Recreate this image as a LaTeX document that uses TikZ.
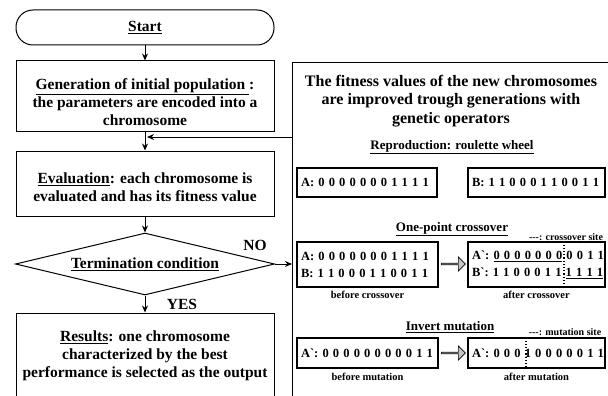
\documentclass[tikz,border=0pt]{standalone}
\usepackage{fontspec}
\setmainfont{Liberation Serif}
\newfontfamily\bitfont{Liberation Serif}[WordSpace=1.25]
\newcommand{\lift}[1]{\rule{0pt}{#1}}
\usetikzlibrary{arrows.meta,shapes.geometric,shapes.arrows,positioning}

\begin{document}
\begin{tikzpicture}[-,
    x=1pt, y=-1pt,
    >={Stealth[length=7pt,width=6pt]},
    line width=1pt,
    every node/.style={font=\bfseries\fontsize{15.5}{18}\selectfont}]
  \tikzstyle{block}=[draw, rectangle, minimum width=258pt, align=center, inner sep=0pt]
  \tikzstyle{chrom}=[draw, rectangle, line width=1.2pt, align=left, inner xsep=4pt, inner ysep=0pt,
    font=\bitfont\bfseries\fontsize{12.5}{17}\selectfont]
  \tikzstyle{head}=[font=\bfseries\fontsize{13}{15}\selectfont]
  \tikzstyle{caption}=[inner sep=0pt, font=\bfseries\fontsize{10.5}{12}\selectfont]
  \tikzstyle{site}=[inner sep=0pt, font=\bfseries\fontsize{10}{11}\selectfont]
  \tikzstyle{fatarrow}=[single arrow, draw, fill=gray!45, line width=0.7pt, minimum height=24pt,
    minimum width=14pt, single arrow head extend=3pt, inner sep=0pt]

  \useasboundingbox (0,0) rectangle (608,396);
  \clip (0,0) rectangle (608,396);

  % flow chart
  \node (start)   [block, rounded corners=17pt, minimum height=35pt] at (145,27.5) {\underline{Start}};
  \node (gen)     [block, minimum height=70pt] at (145,96)
    {\lift{24pt}\underline{Generation of initial population }:\\the parameters are encoded into a\\chromosome};
  \node (eval)    [block, minimum height=65pt] at (145,183.5)
    {\lift{19pt}\underline{Evaluation}: each chromosome is\\evaluated and has its fitness value};
  \node (term)    [draw, diamond, aspect=4, minimum width=259pt, minimum height=62pt, inner sep=0pt]
    at (145,264) {\underline{Termination condition}};
  \node (results) [block, minimum height=86pt] at (145,356)
    {\underline{Results}: one chromosome\\characterized by the best\\performance is selected as the output};
  \node (no) at (255,245) {NO};

  % genetic operators
  \node (ops)   [draw, rectangle, minimum width=330pt, minimum height=340pt, anchor=north west] at (292,62) {};
  \node (title) [align=center, font=\bfseries\fontsize{16}{18.5}\selectfont] at (451,101)
    {The fitness values of the new chromosomes\\are improved trough generations with\\genetic operators};

  \node (repro)  [head] at (452,147) {\underline{Reproduction: roulette wheel}};
  \node (chromA) [chrom, text width=132pt, minimum height=29pt] at (367,182.5)
    {\mbox{A: 0 0 0 0 0 0 0 1 1 1 1}};
  \node (chromB) [chrom, text width=129pt, minimum height=29pt] at (536.5,182.5)
    {\mbox{B: 1 1 0 0 0 1 1 0 0 1 1}};

  \node (cross)    [head] at (452,229) {\underline{One-point crossover}};
  \node (crossTag) [site] at (566,237) {-{}-{}-: crossover site};
  \node (befC) [chrom, text width=133pt, minimum height=45pt] at (367.5,264.5)
    {\mbox{A: 0 0 0 0 0 0 0 1 1 1 1}\\\mbox{B: 1 1 0 0 0 1 1 0 0 1 1}};
  \node (arrC) [fatarrow] at (453,264) {};
  \node (aftC) [chrom, text width=129pt, minimum height=45pt] at (536.5,264.5)
    {\mbox{A\textasciigrave: \underline{0 0 0 0 0 0 0} 0 0 1 1}\\\mbox{B\textasciigrave: 1 1 0 0 0 1 1 \underline{1 1 1 1}}};
  \node (capBefC) [caption, below=3pt of befC] {before crossover};
  \node (capAftC) [caption, below=3pt of aftC] {after crossover};

  \node (mut)    [head] at (450,327) {\underline{Invert mutation}};
  \node (mutTag) [site] at (565,332) {-{}-{}-: mutation site};
  \node (befM) [chrom, text width=133pt, minimum height=30pt] at (367.5,353)
    {\mbox{A\textasciigrave: 0 0 0 0 0 0 0 0 0 1 1}};
  \node (arrM) [fatarrow] at (453,353) {};
  \node (aftM) [chrom, text width=129pt, minimum height=30pt] at (536.5,353)
    {\mbox{A\textasciigrave: 0 0 0 1 0 0 0 0 0 1 1}};
  \node (capBefM) [caption, below=4pt of befM] {before mutation};
  \node (capAftM) [caption, below=4pt of aftM] {after mutation};

  % crossover and mutation sites
  \coordinate (siteC) at (564,0);
  \coordinate (siteM) at (526,0);
  \draw[dotted, line width=1.2pt] (aftC.north -| siteC) -- (aftC.south -| siteC);
  \draw[dotted, line width=1.2pt] (aftM.north -| siteM) -- (aftM.south -| siteM);

  % connectors
  \coordinate (join) at (147,137);
  \path (start) edge [->] (gen)
        (gen)   edge [->] (eval)
        (eval)  edge [->] (term)
        (term)  edge [->] node [right=18pt] {YES} (results);
  \draw[->] (term.east) -- (term.east -| ops.west);
  \draw[->] (ops.west |- join) -- (join);
\end{tikzpicture}
\end{document}
